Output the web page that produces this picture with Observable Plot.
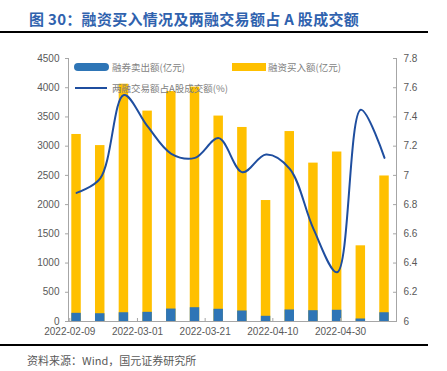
<!DOCTYPE html>
<html><head><meta charset="utf-8">
<script src="https://cdn.jsdelivr.net/npm/d3@7"></script>
<script src="https://cdn.jsdelivr.net/npm/@observablehq/plot@0.6"></script>
<style>
html,body{margin:0;padding:0;background:#fff;}
#wrap{position:relative;width:447px;height:371px;overflow:hidden;font-family:"Liberation Sans",Arial,sans-serif;}
#title{position:absolute;left:29px;top:8px;font-weight:bold;font-size:15px;font-family:"Noto Sans CJK SC",sans-serif;color:#2F62AE;letter-spacing:0.3px;white-space:nowrap;line-height:22px}
.rule{position:absolute;left:0;width:428px;height:2px;background:#000}
#chart{position:absolute;left:0;top:40px}
.leg{position:absolute;font-size:9.5px;font-family:"Noto Sans CJK SC",sans-serif;color:#7f7f7f;white-space:nowrap;line-height:12px}
.sw{position:absolute}
#source{position:absolute;left:27px;top:352px;font-size:11px;font-family:"Noto Sans CJK SC",sans-serif;color:#595959;white-space:nowrap;line-height:16px}
</style></head>
<body>
<div id="wrap">
  <div id="title"></div>
  <div class="rule" style="top:31px"></div>
  <div id="chart"></div>
  <div class="sw" style="left:74px;top:63px;width:35px;height:8px;border-radius:4px;background:#2E75B6"></div>
  <div class="leg" id="leg1" style="left:112px;top:61px"></div>
  <div class="sw" style="left:232px;top:63px;width:34px;height:8px;background:#FFC000"></div>
  <div class="leg" id="leg2" style="left:268px;top:61px"></div>
  <div class="sw" style="left:75px;top:87px;width:32px;height:2px;background:#1F4E9F"></div>
  <div class="leg" id="leg3" style="left:112px;top:82px"></div>
  <div class="rule" style="top:344px"></div>
  <div id="source"></div>
</div>
<script>
const titleText = "图 30：融资买入情况及两融交易额占 A 股成交额";
const sourceText = "资料来源：Wind，国元证券研究所";
const seriesNames = ["融券卖出额(亿元)", "融资买入额(亿元)", "两融交易额占A股成交额(%)"];
const dates = ["2022-02-11","2022-02-18","2022-02-25","2022-03-04","2022-03-11","2022-03-18","2022-03-25","2022-04-01","2022-04-08","2022-04-15","2022-04-22","2022-04-29","2022-05-06","2022-05-13"];
const buy = [3200,3010,4060,3600,3935,4010,3515,3320,2070,3250,2710,2900,1295,2490];
const sell = [140,133,150,157,213,236,209,180,89,197,185,192,43,150];
const ratio = [6.88,6.98,7.55,7.335,7.148,7.12,7.255,7.022,7.143,7.045,6.634,6.337,7.449,7.12];
const leftTicks = [0,500,1000,1500,2000,2500,3000,3500,4000,4500];
const rightTicks = [6,6.2,6.4,6.6,6.8,7,7.2,7.4,7.6,7.8];
const xTickLabels = ["2022-02-09","2022-03-01","2022-03-21","2022-04-10","2022-04-30"];

document.getElementById("title").textContent = titleText;
document.getElementById("source").textContent = sourceText;
document.getElementById("leg1").textContent = seriesNames[0];
document.getElementById("leg2").textContent = seriesNames[1];
document.getElementById("leg3").textContent = seriesNames[2];

const parse = d3.utcParse("%Y-%m-%d");
const data = dates.map((d, i) => ({date: parse(d), buy: buy[i], sell: sell[i], ratio: ratio[i]}));
const leftMax = 4500, rMin = 6, rMax = 7.8;
const toLeft = v => (v - rMin) * leftMax / (rMax - rMin);
const fromLeft = v => Math.round((v * (rMax - rMin) / leftMax + rMin) * 10) / 10;
const halfW = 1.4 * 864e5;
const xDomain = [new Date("2022-02-08T15:00Z"), new Date("2022-05-16T13:00Z")];
const gray = "#A6A6A6", textGray = "#595959";

const chart = Plot.plot({
  width: 447, height: 300,
  marginTop: 18, marginBottom: 19, marginLeft: 68, marginRight: 51,
  style: {fontFamily: "Liberation Sans, Arial, sans-serif", fontSize: "10px", color: textGray, background: "transparent"},
  x: {type: "utc", domain: xDomain},
  y: {domain: [0, leftMax]},
  marks: [
    Plot.rect(data, {x1: d => new Date(+d.date - halfW), x2: d => new Date(+d.date + halfW), y1: 0, y2: "buy", fill: "#FFC000"}),
    Plot.rect(data, {x1: d => new Date(+d.date - halfW), x2: d => new Date(+d.date + halfW), y1: 0, y2: "sell", fill: "#2E75B6"}),
    Plot.line(data, {x: "date", y: d => toLeft(d.ratio), stroke: "#1F4E9F", strokeWidth: 2, curve: "catmull-rom"}),
    Plot.ruleY([0], {stroke: gray}),
    Plot.ruleX(xDomain, {stroke: gray}),
    Plot.axisY(leftTicks, {anchor: "left", tickSize: 3, tickPadding: 6, tickFormat: d => String(d), label: null, stroke: gray, fill: textGray}),
    Plot.axisY(rightTicks.map(toLeft), {anchor: "right", tickSize: -4, tickPadding: 11, tickFormat: d => String(fromLeft(d)), label: null, stroke: gray, fill: textGray}),
    Plot.axisX(xTickLabels.map(parse), {anchor: "bottom", tickSize: -3, tickPadding: 9, tickFormat: d3.utcFormat("%Y-%m-%d"), label: null, stroke: gray, fill: textGray})
  ]
});
document.getElementById("chart").appendChild(chart);
</script>
</body></html>
